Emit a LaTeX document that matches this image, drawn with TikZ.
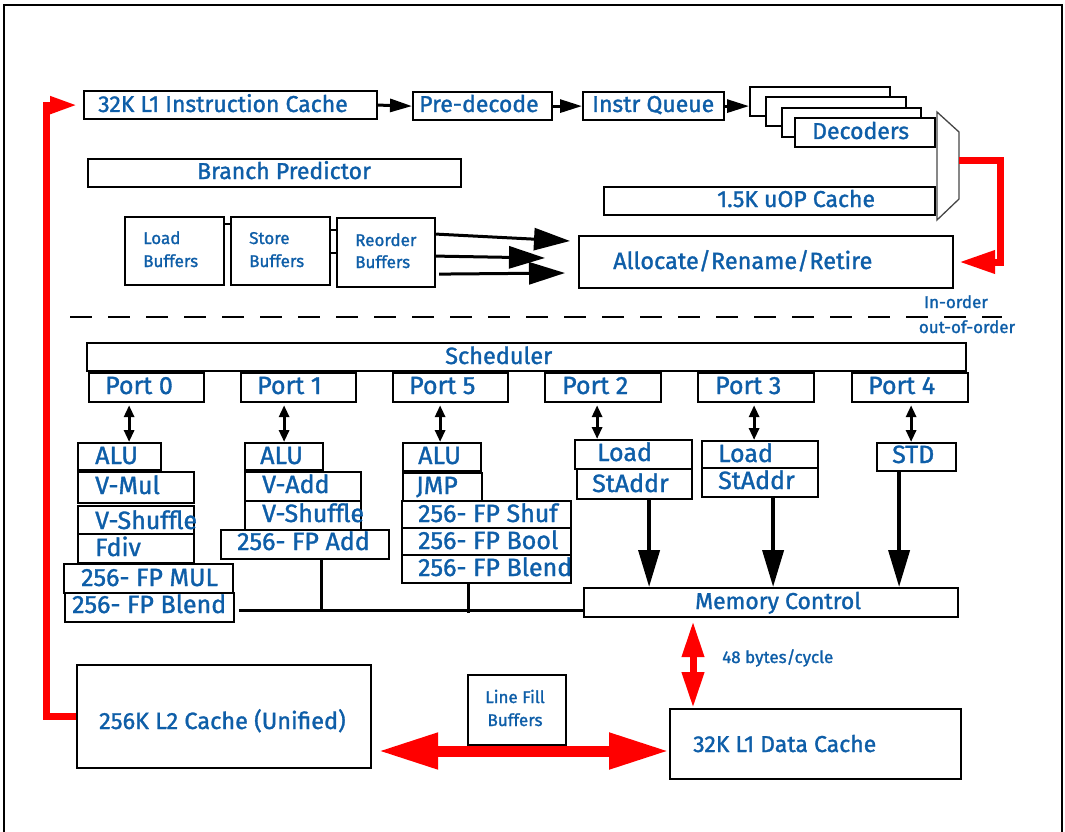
\documentclass[tikz,border=0pt]{standalone}
\usepackage{fontspec}
\setmainfont{Fira Sans}[FakeBold=1.3]
\usetikzlibrary{arrows.meta,calc}
\definecolor{tblue}{RGB}{14,94,168}
\definecolor{mred}{RGB}{255,0,0}
\definecolor{muxgray}{RGB}{70,70,70}
\newcommand\BX[5]{\node[box, minimum width={(#4-#2)*1pt}, minimum height={(#5-#3)*1pt}] (#1) at (#2,#3) {};}
\newcommand\TX[5][t]{\node[#1] (#2) at (#3,#4) {#5};}
\begin{document}
\begin{tikzpicture}[x=1pt,y=-1pt,
  box/.style={draw,line width=2.2pt,fill=white,inner sep=0pt,anchor=north west},
  t/.style={text=tblue,inner sep=0pt,anchor=base west,font=\fontsize{23}{27}\selectfont},
  tm/.style={t,font=\fontsize{23.5}{28}\selectfont},
  tb/.style={t,font=\fontsize{25}{30}\selectfont},
  ts/.style={t,font=\fontsize{17}{21}\selectfont},
  tsc/.style={ts,anchor=base},
  blk/.style={line width=3pt,-{Triangle[length=22pt,width=13pt]}},
  bigblk/.style={line width=3pt,-{Triangle[length=36pt,width=22pt]}},
  downblk/.style={line width=4pt,-{Triangle[length=37pt,width=21pt]}},
  dbl/.style={line width=3pt,{Triangle[length=12pt,width=10pt]}-{Triangle[length=12pt,width=10pt]}},
  bus/.style={line width=3pt},
  redline/.style={draw=mred,line width=7pt},
]
\useasboundingbox (0,0) rectangle (1065,832);
% frame
\coordinate (f1) at (4,832); \coordinate (f2) at (4,5);
\coordinate (f3) at (1062,5); \coordinate (f4) at (1062,832);
\draw[line width=2pt] (f1) -- (f2) -- (f3) -- (f4);

% front end
\BX{l1i}{83}{90}{376}{118}
\BX{pd}{412}{91}{551}{119}
\BX{iq}{582}{91}{723}{119}
\BX{d1}{749}{86}{889}{115}
\BX{d2}{765}{96}{905}{125}
\BX{d3}{781}{107}{920}{136}
\BX{dec}{794}{117}{934}{146}
\BX{bp}{87}{158}{460}{186}
\BX{uop}{603}{186}{934}{214}
\BX{lb}{124}{216}{223}{284}
\BX{sb}{230}{216}{329}{284}
\BX{rob}{336}{217}{434}{286}
\BX{alloc}{578}{235}{952}{287}

\TX{tl1i}{98}{112}{32K L1 Instruction Cache}
\TX{tpd}{419}{112}{Pre-decode}
\TX{tiq}{592}{112}{Instr Queue}
\TX{tdec}{812}{139}{Decoders}
\TX{tbp}{197}{179}{Branch Predictor}
\TX{tuop}{717}{207}{1.5K uOP Cache}
\TX[tm]{talloc}{613}{269}{Allocate/Rename/Retire}
\TX[ts]{tlb1}{143}{244}{Load}
\TX[ts]{tlb2}{143}{267}{Buffers}
\TX[ts]{tsb1}{249}{244}{Store}
\TX[ts]{tsb2}{249}{267}{Buffers}
\TX[ts]{trob1}{355}{246}{Reorder}
\TX[ts]{trob2}{355}{268}{Buffers}

\draw[blk] (l1i.east) -- (pd.west);
\draw[blk] (pd.east) -- (iq.west);
\draw[blk] (iq.east) -- (d1.west |- iq.east);

% mux
\draw[muxgray,line width=1.3pt] (937,112) -- (959,132) -- (959,199) -- (937,220) -- cycle;
\coordinate (mx) at (959,160);
\coordinate (rc1) at (1000,160);
\coordinate (rc2) at (1000,262);
\draw[redline,-{Triangle[length=36pt,width=22pt]},shorten >=5pt] (mx) -- (rc1) -- (rc2) -- (alloc.east |- rc2);

% buffers
\draw[line width=2.2pt] ([yshift=27pt]lb.east) -- ([yshift=27pt]lb.east -| sb.west);
\draw[line width=2.2pt] ([yshift=21pt]sb.east) -- ([yshift=21pt]sb.east -| rob.west);
\draw[line width=2.2pt] ([yshift=-2pt]sb.east) -- ([yshift=-2pt]sb.east -| rob.west);
\coordinate (e1) at (570,241);
\coordinate (e2) at (545,258);
\coordinate (e3) at (565,273);
\draw[bigblk] ([yshift=18.5pt]rob.east) -- (e1);
\draw[bigblk] ([yshift=-3.5pt]rob.east) -- (e2);
\draw[bigblk] ([xshift=3pt,yshift=-21.5pt]rob.east) -- (e3);

% in-order line
\coordinate (dl) at (70,317); \coordinate (dr) at (1002,317);
\draw[line width=2pt,dash pattern=on 22pt off 16pt] (dl) -- (dr);
\TX[tsc]{tin}{956}{308}{In-order}
\TX[tsc]{tout}{967}{333}{out-of-order}

% scheduler and ports
\BX{sch}{86}{342}{965}{370}
\TX[tm]{tsch}{445}{364}{Scheduler}
\BX{p0}{88}{372}{203}{401}
\BX{p1}{240}{372}{355}{401}
\BX{p5}{392}{372}{507}{401}
\BX{p2}{544}{372}{660}{401}
\BX{p3}{697}{372}{813}{401}
\BX{p4}{851}{372}{967}{401}
\TX[tb]{tp0}{105}{394}{Port 0}
\TX[tb]{tp1}{257}{394}{Port 1}
\TX[tb]{tp5}{409}{394}{Port 5}
\TX[tb]{tp2}{562}{394}{Port 2}
\TX[tb]{tp3}{715}{394}{Port 3}
\TX[tb]{tp4}{868}{394}{Port 4}

% execution units
\BX{alu0}{77}{442}{160}{469}
\BX{vmul}{77}{471}{193}{502}
\BX{vsh0}{77}{505}{193}{533}
\BX{fdiv}{77}{533}{193}{562}
\BX{fmul}{63}{563}{232}{592}
\BX{fbl0}{64}{592}{233}{621}
\BX{alu1}{244}{442}{322}{469}
\BX{vadd}{244}{471}{360}{500}
\BX{vsh1}{244}{500}{360}{529}
\BX{fadd}{220}{529}{388}{558}
\BX{alu5}{402}{442}{480}{470}
\BX{jmp}{402}{472}{481}{500}
\BX{fshuf}{401}{500}{570}{527}
\BX{fbool}{401}{527}{570}{554}
\BX{fbl5}{401}{554}{570}{582}
\BX{ld2}{574}{439}{691}{468}
\BX{sa2}{576}{468}{691}{498}
\BX{ld3}{701}{440}{817}{467}
\BX{sa3}{701}{467}{817}{496}
\BX{std}{876}{442}{955}{470}
\BX{mc}{583}{587}{957}{616}

\TX[tb]{talu0}{95}{464}{ALU}
\TX[tb]{tvmul}{95}{494}{V-Mul}
\TX[tb]{tvsh0}{95}{529}{V-Shuffle}
\TX[tb]{tfdiv}{95}{556}{Fdiv}
\TX[tb]{tfmul}{81}{586}{256- FP MUL}
\TX[tb]{tfbl0}{72}{613}{256- FP Blend}
\TX[tb]{talu1}{260}{464}{ALU}
\TX[tb]{tvadd}{262}{493}{V-Add}
\TX[tb]{tvsh1}{262}{522}{V-Shuffle}
\TX[tb]{tfadd}{237}{550}{256- FP Add}
\TX[tb]{talu5}{418}{464}{ALU}
\TX[tb]{tjmp}{416}{494}{JMP}
\TX[tb]{tfshuf}{418}{522}{256- FP Shuf}
\TX[tb]{tfbool}{418}{549}{256- FP Bool}
\TX[tb]{tfbl5}{418}{576}{256- FP Blend}
\TX[tb]{tld2}{597}{461}{Load}
\TX[tb]{tsa2}{592}{492}{StAddr}
\TX[tb]{tld3}{718}{462}{Load}
\TX[tb]{tsa3}{718}{489}{StAddr}
\TX[tb]{tstd}{892}{463}{STD}
\TX{tmc}{695}{609}{Memory Control}

% port links
\draw[dbl] ([xshift=-17.5pt,yshift=-2pt]p0.south) -- ([xshift=-17.5pt]p0.south |- alu0.north);
\draw[dbl] ([xshift=-14.5pt,yshift=-2pt]p1.south) -- ([xshift=-14.5pt]p1.south |- alu1.north);
\draw[dbl] ([xshift=-10.5pt,yshift=-2pt]p5.south) -- ([xshift=-10.5pt]p5.south |- alu5.north);
\draw[dbl] ([xshift=-6pt,yshift=-2pt]p2.south) -- ([xshift=-6pt]p2.south |- ld2.north);
\draw[dbl] ([xshift=-2pt,yshift=-2pt]p3.south) -- ([xshift=-2pt]p3.south |- ld3.north);
\draw[dbl] ([xshift=1pt,yshift=-2pt]p4.south) -- ([xshift=1pt]p4.south |- std.north);

% load/store to memory control
\draw[downblk] ([xshift=14.5pt]sa2.south) -- ([xshift=14.5pt]sa2.south |- mc.north);
\draw[downblk] ([xshift=13pt]sa3.south) -- ([xshift=13pt]sa3.south |- mc.north);
\draw[downblk] ([xshift=-17.5pt]std.south) -- ([xshift=-17.5pt]std.south |- mc.north);

% bus
\coordinate (bus) at ([xshift=4pt,yshift=-2.5pt]fbl0.east);
\draw[bus] (bus) -- (bus -| mc.west);
\draw[bus] ([xshift=16pt]fadd.south) -- ([xshift=16pt]fadd.south |- bus);
\draw[bus] ([xshift=-18.5pt]fbl5.south) -- ([xshift=-18.5pt,yshift=-3pt]fbl5.south |- bus);

% caches
\BX{l2}{76}{664}{370}{767}
\BX{lfb}{467}{674}{565}{744}
\BX{l1d}{669}{708}{960}{778}
\TX[tm]{tl2}{99}{729}{256K L2 Cache (Unified)}
\TX[tsc]{tlfb1}{515}{703}{Line Fill}
\TX[tsc]{tlfb2}{515}{726}{Buffers}
\TX{tl1d}{693}{752}{32K L1 Data Cache}
\TX[ts]{tbw}{722}{663}{48 bytes/cycle}

\coordinate (ay) at (0,751);
\draw[draw=mred,line width=11pt,{Triangle[length=60pt,width=34pt]}-{Triangle[length=60pt,width=34pt]},shorten <=6pt] (l2.east |- ay) -- (l1d.west |- ay);
\coordinate (ax) at (693,0);
\draw[draw=mred,line width=7pt,{Triangle[length=36pt,width=21pt]}-{Triangle[length=36pt,width=21pt]},shorten <=3pt] (mc.south -| ax) -- (l1d.north -| ax);

\coordinate (lc) at (46,0);
\draw[redline,-{Triangle[length=28pt,width=16pt]},shorten >=5pt] (l2.west) -| (lc |- l1i.west) -- (l1i.west);
\end{tikzpicture}
\end{document}
